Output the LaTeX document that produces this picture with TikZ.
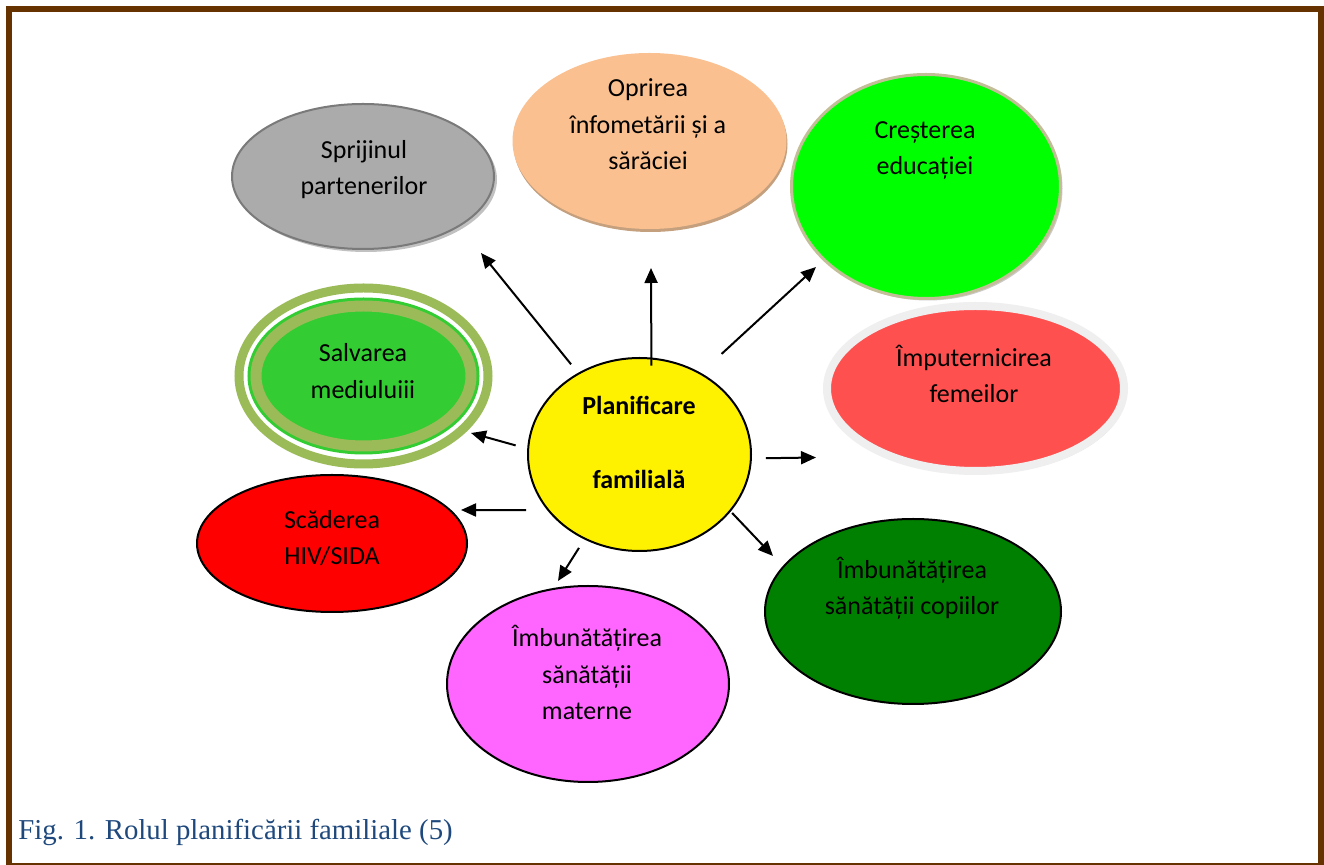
\documentclass[tikz,border=0pt]{standalone}
\usepackage{fontspec}
\setmainfont{Carlito}
\newfontfamily\capfont{Liberation Serif}
\usetikzlibrary{arrows.meta,shadows,shapes.geometric}
\definecolor{framebrown}{HTML}{663300}
\definecolor{capblue}{HTML}{1F497D}
\definecolor{sprijgray}{HTML}{ABABAB}
\definecolor{sprijedge}{HTML}{7A7A7A}
\definecolor{peach}{HTML}{FAC090}
\definecolor{tanshadow}{HTML}{C4A07E}
\definecolor{lightgreen}{HTML}{00FF00}
\definecolor{olivegray}{HTML}{C4BE98}
\definecolor{coral}{HTML}{FF5050}
\definecolor{ringgray}{HTML}{EFEFEF}
\definecolor{olive}{HTML}{9BBB59}
\definecolor{lime}{HTML}{33CC33}
\definecolor{darkgreen}{HTML}{008000}
\definecolor{pinkish}{HTML}{FF66FF}
\begin{document}
\begin{tikzpicture}[x=0.5pt, y=-0.5pt,
    ell/.style={ellipse, inner sep=0pt, line width=1pt},
    txt/.style={align=center, inner sep=0pt, anchor=base, font=\fontsize{13}{18.3}\selectfont},
    arr/.style={-{Triangle[length=7.5pt,width=6.5pt]}, line width=1pt}]
  \useasboundingbox (0,0) rectangle (1324,865);
  \fill[white] (0,0) rectangle (1324,865);
  \draw[framebrown, line width=3pt] (9,9) rectangle (1321,866);

  \node[ell, fill=sprijgray, draw=sprijedge, minimum width=131pt, minimum height=72.5pt,
    drop shadow={shadow xshift=1.5pt, shadow yshift=-1.5pt, fill=black!40, opacity=.6}] (sprij) at (363,176.5) {};
  \node[ell, fill=peach, minimum width=137pt, minimum height=88pt,
    drop shadow={shadow xshift=.5pt, shadow yshift=-1.5pt, fill=tanshadow, opacity=1}] (oprire) at (649.5,141) {};
  \node[ell, fill=lightgreen, draw=olivegray, line width=1.5pt, minimum width=134.5pt, minimum height=112pt,
    drop shadow={shadow xshift=1pt, shadow yshift=-1pt, fill=black!25, opacity=.8}] (crest) at (926,186.5) {};
  \node[ell, fill=coral, draw=ringgray, line width=4pt, minimum width=148.5pt, minimum height=82.5pt,
    drop shadow={shadow xshift=1pt, shadow yshift=-1.5pt, fill=tanshadow, opacity=1}] (femei) at (975.5,388.5) {};
  \node[ell, draw=olive, line width=4.5pt, minimum width=124.5pt, minimum height=88pt] (salvring) at (363.5,376) {};
  \node[ell, fill=lime, draw=olive, line width=5.5pt, minimum width=107.5pt, minimum height=70pt,
    preaction={draw=lime, line width=8.5pt}] (salv) at (363.5,376) {};
  \node[ell, fill=yellow, draw=black, minimum width=111.5pt, minimum height=96.5pt] (plan) at (639.5,454.5) {};
  \node[ell, fill=red, draw=black, minimum width=135pt, minimum height=68.5pt] (scad) at (332,543.5) {};
  \node[ell, fill=darkgreen, draw=black, minimum width=148pt, minimum height=92.5pt] (copii) at (913,611.5) {};
  \node[ell, fill=pinkish, draw=black, minimum width=141pt, minimum height=98pt] (mama) at (588,684) {};

  \node[txt] (sprijtxt) at (364,195) {Sprijinul\\partenerilor};
  \node[txt] (oprtxt) at (648,170) {Oprirea\\înfometării și a\\sărăciei};
  \node[txt] (cresttxt) at (925,175) {Creșterea\\educației};
  \node[txt] (femtxt) at (974,402.7) {Împuternicirea\\femeilor};
  \node[txt] (salvtxt) at (363,398.3) {Salvarea\\mediuluiii};
  \node[txt, font=\bfseries\fontsize{13}{37}\selectfont] (plantxt) at (639,488.3) {Planificare\\familială};
  \node[txt] (scadtxt) at (332,565) {Scăderea\\HIV/SIDA};
  \node[txt] (copiitxt) at (912,615) {Îmbunătățirea\\sănătății copiilor};
  \node[txt] (mamatxt) at (587,720) {Îmbunătățirea\\sănătății\\materne};

  \coordinate (h1) at (481,253);
  \coordinate (h2) at (651,268);
  \coordinate (h3) at (816,267);
  \coordinate (h4) at (816,457.5);
  \coordinate (h5) at (773,556);
  \coordinate (h6) at (558,581);
  \coordinate (h7) at (461,510);
  \coordinate (h8) at (471,433);
  \draw[arr, shorten <=5.5pt] (plan.127) -- (h1);
  \draw[arr, shorten <=-4pt] (plan.83) -- (h2);
  \draw[arr, shorten <=14pt] (plan.53) -- (h3);
  \draw[arr, shorten <=7pt] (plan.-2) -- (h4);
  \draw[arr, shorten <=1pt] (plan.-32) -- (h5);
  \draw[arr, shorten <=5pt] (plan.-123) -- (h6);
  \draw[arr, shorten <=10.5pt] (plan.-149) -- (h7);
  \draw[arr, shorten <=6pt] (plan.177) -- (h8);

  \node[anchor=base west, inner sep=0pt, text=capblue, font=\capfont\fontsize{14.4}{17}\selectfont] (cap) at (18,840) {Fig. 1. Rolul planificării familiale (5)};
\end{tikzpicture}
\end{document}
